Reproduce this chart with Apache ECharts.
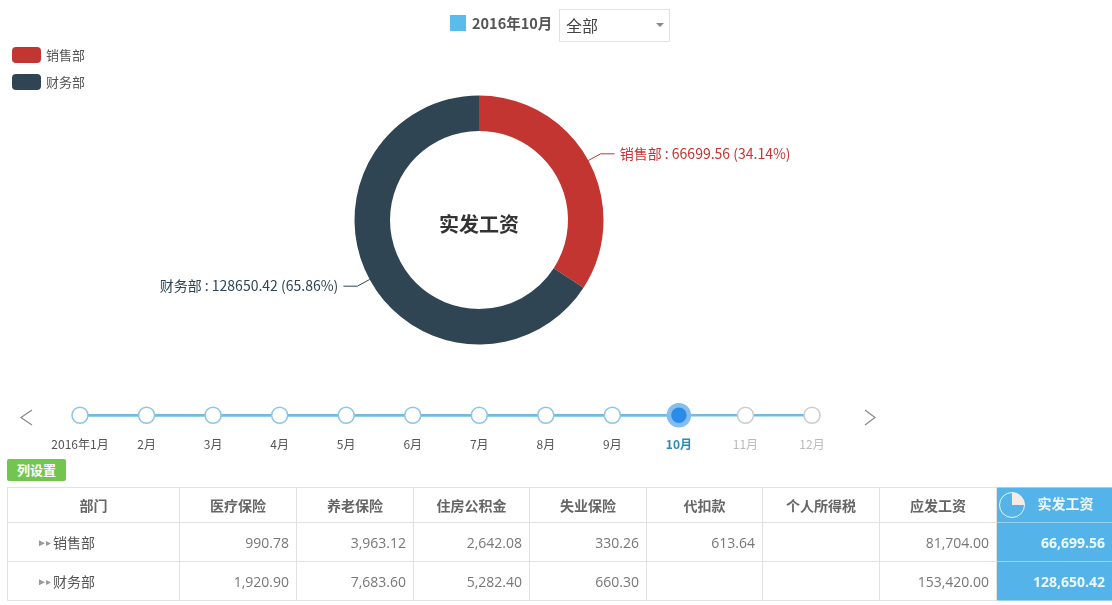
<!DOCTYPE html>
<html><head><meta charset="utf-8">
<script src="https://cdn.jsdelivr.net/npm/echarts@6/dist/echarts.min.js"></script>
<style>
html,body{margin:0;padding:0;background:#fff;overflow:hidden}
body{width:1112px;height:605px;position:relative;font-family:"Noto Sans CJK SC","Noto Sans",sans-serif}
#c{position:absolute;left:0;top:0;width:1112px;height:605px}
.abs{position:absolute}
table{position:absolute;left:7px;top:487px;border-collapse:collapse;table-layout:fixed;width:1105px;font-size:14px;color:#666}
td,th{border:1px solid #e2e2e2;box-sizing:border-box;padding:0 7px 0 0;text-align:right;white-space:nowrap;overflow:hidden}
th{height:35px;text-align:center;font-weight:700;padding:0;color:#666;font-size:14px}
td{height:39px;font-family:"Open Sans","Noto Sans CJK SC",sans-serif;font-size:14px;color:#777}
td.n{text-align:left;padding-left:29px;font-family:"Noto Sans CJK SC";color:#555}
.hl{background:#54b3e8;color:#eef8fd;border-color:#9bd2ef;font-weight:700}
.ar{color:#999;font-size:10px;margin-right:3px;vertical-align:2px;letter-spacing:-1px}
</style></head><body>
<div id="c"></div>
<div class="abs" style="left:450px;top:15px;width:16px;height:16px;background:#5bbcec"></div>
<div class="abs" id="period" style="left:472px;top:12px;font-size:14.5px;font-weight:700;color:#555;line-height:22px"></div>
<div class="abs" style="left:559px;top:9px;width:111px;height:33px;border:1px solid #e2e2e2;box-sizing:border-box;font-size:16px;color:#444;line-height:31px;padding-left:6px" id="sel"></div>
<div class="abs" style="left:656px;top:23px;width:0;height:0;border:4px solid transparent;border-top:4px solid #888"></div>
<div class="abs" id="btn" style="left:7px;top:459px;width:59px;height:22px;background:#72c650;border-radius:2px;color:#fff;font-weight:700;font-size:13px;line-height:22px;text-align:center"></div>
<table id="t"></table>
<script>
const months = ['2016年1月','2月','3月','4月','5月','6月','7月','8月','9月','10月','11月','12月'];
const currentMonth = 9;
const periodLabel = '2016年10月';
const filterLabel = '全部';
const buttonLabel = '列设置';
const centerTitle = '实发工资';
const departments = ['销售部','财务部'];
const netPay = [66699.56,128650.42];
const columns = ['部门','医疗保险','养老保险','住房公积金','失业保险','代扣款','个人所得税','应发工资','实发工资'];
const medical = ['990.78','1,920.90'];
const pension = ['3,963.12','7,683.60'];
const housing = ['2,642.08','5,282.40'];
const unemployment = ['330.26','660.30'];
const withheld = ['613.64',''];
const incomeTax = ['',''];
const grossPay = ['81,704.00','153,420.00'];
const netPayText = ['66,699.56','128,650.42'];
const colWidths = [172,117,117,116,117,116,117,117,116];
const sliceColors = ['#c23531','#2f4554'];

document.getElementById('period').textContent = periodLabel;
document.getElementById('sel').textContent = filterLabel;
document.getElementById('btn').textContent = buttonLabel;

const pieIcon = '<svg width="28" height="28" style="position:absolute;left:1px;top:3px" viewBox="0 0 28 28"><circle cx="14" cy="14" r="12.5" fill="none" stroke="#e8f5fc" stroke-width="1"/><path d="M14 14V1.5A12.5 12.5 0 0 1 26.5 14Z" fill="#f3ebe6"/></svg>';
let html = '<colgroup>' + colWidths.map(w => `<col style="width:${w}px">`).join('') + '</colgroup><tr>';
columns.forEach((c,i) => {
  html += i === columns.length-1
    ? `<th class="hl" style="position:relative;color:#eef8fd">${pieIcon}<span style="position:relative;left:11px;top:-2px">${c}</span></th>`
    : `<th>${c}</th>`;
});
html += '</tr>';
departments.forEach((d,r) => {
  html += `<tr><td class="n"><span class="ar">►▸</span>${d}</td>`;
  [medical,pension,housing,unemployment,withheld,incomeTax,grossPay].forEach(a => html += `<td>${a[r]}</td>`);
  html += `<td class="hl">${netPayText[r]}</td></tr>`;
});
document.getElementById('t').innerHTML = html;

const chart = echarts.init(document.getElementById('c'), null, {renderer:'canvas'});
const font = '"Noto Sans CJK SC","Noto Sans",sans-serif';
const tlLabel = {fontSize:12,fontFamily:font,verticalAlign:'middle'};
chart.setOption({
  animation:false,
  color:sliceColors,
  title:{text:centerTitle,left:479,top:224,padding:0,textAlign:'center',textVerticalAlign:'middle',
    textStyle:{fontSize:20,fontWeight:'bold',color:'#333',fontFamily:font}},
  legend:{orient:'vertical',left:12,top:47,padding:0,itemWidth:29,itemHeight:16,itemGap:11,icon:'roundRect',
    data:departments,textStyle:{fontSize:13,color:'#555',fontFamily:font}},
  timeline:{
    axisType:'category',autoPlay:false,currentIndex:currentMonth,
    left:80,right:300,top:403,height:47,
    padding:0,
    symbol:'circle',symbolSize:16,
    data:months.map((m,i)=>{
      if(i>currentMonth) return {value:m,label:{color:'#bbb'},itemStyle:{borderColor:'#ccc',color:'#fff'}};
      if(i===currentMonth) return {value:m,label:{color:'#2a8ab8',fontWeight:'bold'},progress:{label:{color:'#2a8ab8',fontWeight:'bold'}},emphasis:{label:{color:'#2a8ab8',fontWeight:'bold'}}};
      return m;
    }),
    lineStyle:{color:'#6ebbe4',width:2.5},
    itemStyle:{color:'#fff',borderColor:'#8cc6e4',borderWidth:1.5},
    label:{position:'bottom',interval:0,color:'#555',...tlLabel},
    checkpointStyle:{symbol:'circle',symbolSize:20,color:'#2a8ce8',borderColor:'#84bdf0',borderWidth:4.5,animation:false},
    progress:{lineStyle:{color:'#6ebbe4',width:2.5},itemStyle:{color:'#fff',borderColor:'#8cc6e4'},label:{color:'#555',...tlLabel}},
    emphasis:{label:{color:'#555'}},
    controlStyle:{show:false,showPlayBtn:false,showPrevBtn:false,showNextBtn:false}
  },
  graphic:[
    {type:'polyline',shape:{points:[[32,410],[21,417.5],[32,425]]},style:{stroke:'#888',lineWidth:1.2,fill:null},silent:true},
    {type:'polyline',shape:{points:[[865,410],[875,417.5],[865,425]]},style:{stroke:'#888',lineWidth:1.2,fill:null},silent:true}
  ],
  series:[{
    type:'pie',center:[479,220],radius:[89,124.5],startAngle:90,clockwise:true,avoidLabelOverlap:false,
    data:departments.map((d,i)=>({name:d,value:netPay[i],
      label:{color:sliceColors[i]},labelLine:{lineStyle:{color:sliceColors[i]}}})),
    label:{formatter:'{b} : {c} ({d}%)',fontSize:14,fontFamily:font},
    labelLine:{length:14,length2:14,lineStyle:{width:1}}
  }]
});
</script>
</body></html>
